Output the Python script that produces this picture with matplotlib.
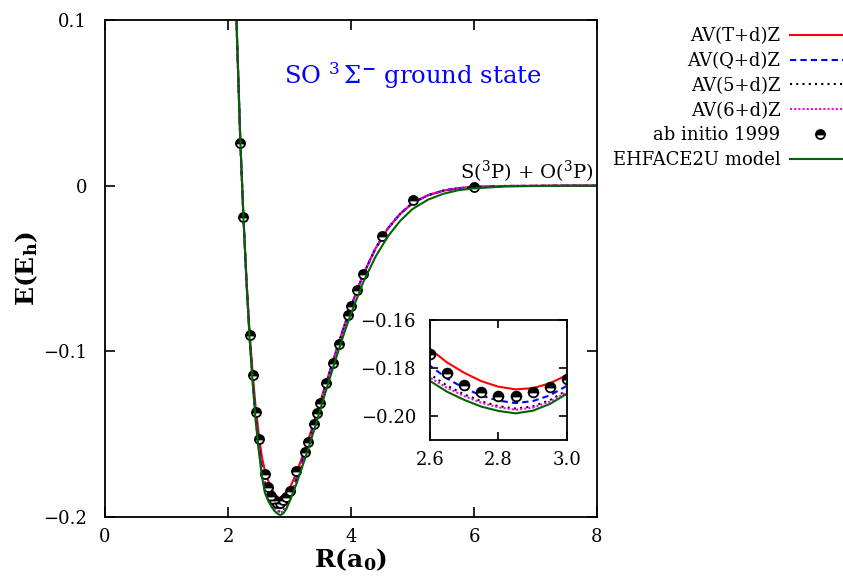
import matplotlib
matplotlib.use("Agg")
import matplotlib.pyplot as plt

plt.rcParams['font.family'] = ['DejaVu Serif']
plt.rcParams['mathtext.fontset'] = 'dejavuserif'

# potential energy curves, R in bohr, E in hartree
R = [2.13, 2.15, 2.2, 2.25, 2.3, 2.35, 2.4, 2.45, 2.5, 2.55, 2.6, 2.65, 2.7, 2.75,
     2.8, 2.85, 2.9, 2.95, 3.0, 3.1, 3.2, 3.3, 3.4, 3.5, 3.6, 3.7, 3.8, 3.9, 4.0,
     4.2, 4.4, 4.6, 4.8, 5.0, 5.25, 5.5, 5.75, 6.0, 6.5, 7.0, 7.5, 8.0]

E_tz = [0.110, 0.085, 0.027, -0.018, -0.056, -0.088, -0.113, -0.134, -0.150, -0.1635,
        -0.1721, -0.1777, -0.1820, -0.1855, -0.1878, -0.1889, -0.1884, -0.1864, -0.1829,
        -0.1745, -0.1645, -0.1540, -0.1425, -0.1305, -0.1185, -0.1065, -0.0948, -0.0835,
        -0.0728, -0.0535, -0.0378, -0.0258, -0.0170, -0.0105, -0.0058, -0.0030, -0.0015,
        -0.0008, -0.0002, -0.0001, 0.0, 0.0]
E_qz = [0.110, 0.085, 0.027, -0.018, -0.057, -0.090, -0.116, -0.1385, -0.1555, -0.1700,
        -0.1790, -0.1844, -0.1884, -0.1915, -0.1936, -0.1946, -0.1938, -0.1914, -0.1874,
        -0.1780, -0.1672, -0.1560, -0.1439, -0.1315, -0.1192, -0.1070, -0.0951, -0.0837,
        -0.0729, -0.0535, -0.0378, -0.0258, -0.0170, -0.0105, -0.0058, -0.0030, -0.0015,
        -0.0008, -0.0002, -0.0001, 0.0, 0.0]
E_5z = [0.110, 0.085, 0.027, -0.018, -0.0574, -0.0908, -0.1172, -0.1403, -0.1577, -0.1726,
        -0.1826, -0.1874, -0.1910, -0.1939, -0.1959, -0.1969, -0.1960, -0.1934, -0.1893,
        -0.1794, -0.1683, -0.1568, -0.1445, -0.1319, -0.1195, -0.1072, -0.0952, -0.0838,
        -0.0729, -0.0535, -0.0378, -0.0258, -0.0170, -0.0105, -0.0058, -0.0030, -0.0015,
        -0.0008, -0.0002, -0.0001, 0.0, 0.0]
E_6z = [0.110, 0.085, 0.027, -0.018, -0.0576, -0.0912, -0.1178, -0.1411, -0.1586, -0.1737,
        -0.1840, -0.1883, -0.1917, -0.1945, -0.1964, -0.1974, -0.1965, -0.1940, -0.1900,
        -0.1800, -0.1687, -0.1571, -0.1447, -0.1321, -0.1196, -0.1073, -0.0953, -0.0838,
        -0.0730, -0.0535, -0.0378, -0.0258, -0.0170, -0.0105, -0.0058, -0.0030, -0.0015,
        -0.0008, -0.0002, -0.0001, 0.0, 0.0]
E_ehf = [0.110, 0.086, 0.028, -0.018, -0.0578, -0.0916, -0.1184, -0.1420, -0.1597, -0.1750,
         -0.1854, -0.1899, -0.1933, -0.1961, -0.1979, -0.1989, -0.1978, -0.1950, -0.1907,
         -0.1813, -0.1705, -0.1594, -0.1475, -0.1351, -0.1229, -0.1108, -0.0991, -0.0878,
         -0.0772, -0.0582, -0.0428, -0.0306, -0.0212, -0.0141, -0.0085, -0.0049, -0.0027,
         -0.0016, -0.0005, -0.0002, 0.0, 0.0]

# ab initio points (1999)
R_ai = [2.2, 2.25, 2.35, 2.4, 2.45, 2.5, 2.6, 2.65, 2.7, 2.75, 2.8, 2.85, 2.9, 2.95, 3.0,
        3.1, 3.25, 3.3, 3.4, 3.45, 3.5, 3.6, 3.7, 3.8, 3.95, 4.0, 4.1, 4.2, 4.5, 5.0, 6.0]
E_ai = [0.026, -0.019, -0.090, -0.114, -0.1366, -0.153, -0.1743, -0.1821, -0.1871, -0.1900,
        -0.1917, -0.1917, -0.1900, -0.1879, -0.1846, -0.1724, -0.161, -0.155, -0.1436,
        -0.137, -0.131, -0.119, -0.107, -0.0954, -0.0779, -0.0728, -0.0632, -0.0531,
        -0.0306, -0.0089, -0.0008]

labels = ["AV(T+d)Z", "AV(Q+d)Z", "AV(5+d)Z", "AV(6+d)Z", "ab initio 1999", "EHFACE2U model"]


def draw(ax, lw=1.5, ms=6.5):
    ax.plot(R, E_tz, color="#ff0000", lw=lw, label=labels[0])
    ax.plot(R, E_qz, color="#0000ff", lw=lw, ls=(0, (3, 2)), label=labels[1])
    ax.plot(R, E_5z, color="black", lw=lw, ls=(0, (1, 2)), label=labels[2])
    ax.plot(R, E_6z, color="#ff00ff", lw=lw, ls=(0, (1, 1)), label=labels[3])
    ax.plot(R_ai, E_ai, ls="none", marker="o", ms=ms, fillstyle="top",
            mfc="black", mfcalt="white", mec="black", mew=1.3, label=labels[4])
    ax.plot(R, E_ehf, color="#006400", lw=lw, label=labels[5])


fig = plt.figure(figsize=(8.43, 5.79), dpi=100)
ax = fig.add_axes([105 / 843, 1 - 517 / 579, 492 / 843, 497 / 579])
draw(ax)
ax.set_xlim(0, 8)
ax.set_ylim(-0.2, 0.1)
ax.set_xticks([0, 2, 4, 6, 8])
ax.set_yticks([-0.2, -0.1, 0, 0.1])
ax.set_yticklabels(["\u22120.2", "\u22120.1", "0", "0.1"])
ax.tick_params(direction="in", length=7, width=1.2, top=True, right=True, labelsize=13)
ax.tick_params(axis="y", pad=13)
ax.tick_params(axis="x", pad=8)
for s in ax.spines.values():
    s.set_linewidth(1.3)
ax.set_xlabel(r"$\mathbf{R(a_0)}$", fontsize=18, labelpad=0)
ax.set_ylabel(r"$\mathbf{E(E_h)}$", fontsize=18, labelpad=2)

ax.text(5.0, 0.0665, r"SO $^3\,\Sigma^{\mathbf{-}}$ ground state", color="#0000ff",
        fontsize=17.5, ha="center", va="center")
ax.text(6.86, 0.0085, r"S($^3$P) + O($^3$P)", fontsize=14, ha="center", va="center")

fig.legend(*ax.get_legend_handles_labels(), loc="upper right",
           bbox_to_anchor=(850 / 843, 1 - 27 / 579), frameon=False, markerfirst=False,
           fontsize=13, handlelength=3.3, handletextpad=0.55, labelspacing=0.38,
           borderpad=0, borderaxespad=0)

ins = fig.add_axes([430 / 843, 1 - 440 / 579, 137 / 843, 120 / 579])
draw(ins, ms=7)
ins.set_xlim(2.6, 3.0)
ins.set_ylim(-0.21, -0.16)
ins.set_xticks([2.6, 2.8, 3.0])
ins.set_xticklabels(["2.6", "2.8", "3.0"])
ins.set_yticks([-0.20, -0.18, -0.16])
ins.set_yticklabels(["\u22120.20", "\u22120.18", "\u22120.16"])
ins.tick_params(direction="in", length=6, width=1.2, top=True, right=True, labelsize=13)
ins.tick_params(axis="y", pad=10)
ins.tick_params(axis="x", pad=8)
for s in ins.spines.values():
    s.set_linewidth(1.3)

fig.savefig("out.png", dpi=100)
